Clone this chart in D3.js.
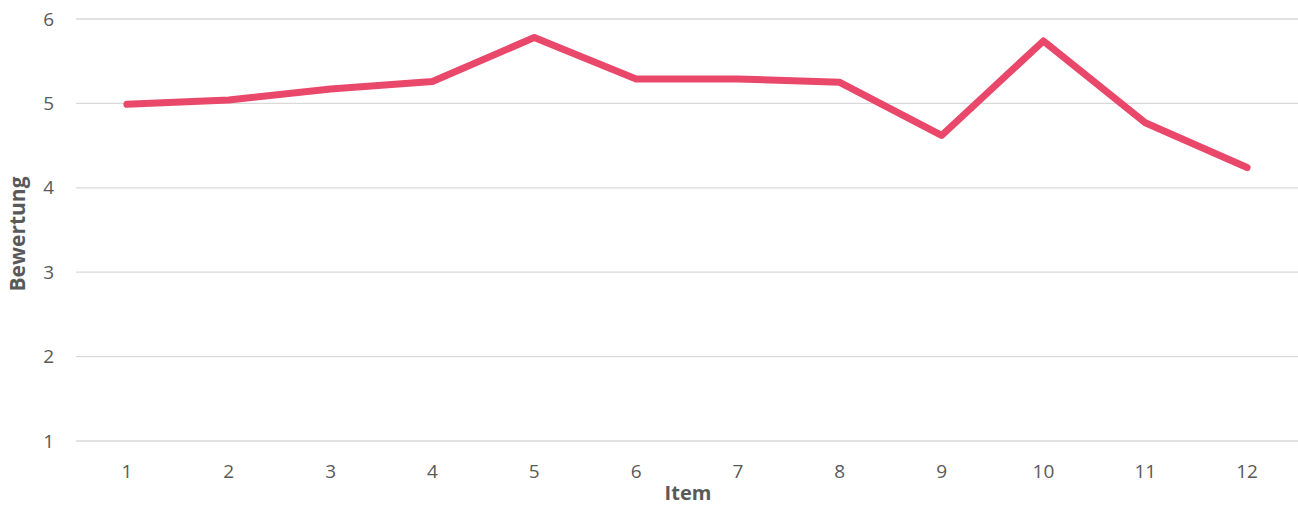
<!DOCTYPE html>
<html>
<head>
<meta charset="utf-8">
<script src="https://cdn.jsdelivr.net/npm/d3@7"></script>
<style>
  body { margin: 0; background: #fff; }
  svg text { font-family: "Open Sans", sans-serif; fill: #595959; }
  .tick text { font-size: 19px; }
</style>
</head>
<body>
<div id="chart"></div>
<script>
var items = ["1","2","3","4","5","6","7","8","9","10","11","12"];
var ratings = [4.99, 5.04, 5.17, 5.26, 5.78, 5.29, 5.29, 5.25, 4.62, 5.74, 4.77, 4.24];
var yTicks = [1, 2, 3, 4, 5, 6];

var width = 1298, height = 506;
var margin = {top: 19, right: 0, bottom: 65, left: 76};

var svg = d3.select("#chart").append("svg")
  .attr("width", width)
  .attr("height", height);

var x = d3.scaleBand()
  .domain(items)
  .range([margin.left, width - margin.right]);

var y = d3.scaleLinear()
  .domain([1, 6])
  .range([height - margin.bottom, margin.top]);

// gridlines
svg.append("g")
  .selectAll("line")
  .data(yTicks)
  .enter().append("line")
  .attr("x1", margin.left)
  .attr("x2", width - margin.right)
  .attr("y1", function(d) { return y(d); })
  .attr("y2", function(d) { return y(d); })
  .attr("stroke", "#d9d9d9")
  .attr("stroke-width", 1.3);

// y axis labels
var yAxis = d3.axisLeft(y).tickValues(yTicks).tickFormat(d3.format("d")).tickSize(0).tickPadding(22);
svg.append("g")
  .attr("transform", "translate(" + margin.left + ",0)")
  .call(yAxis)
  .call(function(g) { g.select(".domain").remove(); });

// x axis labels
var xAxis = d3.axisBottom(x).tickSize(0).tickPadding(24);
svg.append("g")
  .attr("transform", "translate(0," + y(1) + ")")
  .call(xAxis)
  .call(function(g) { g.select(".domain").remove(); });

// line
var line = d3.line()
  .x(function(d, i) { return x(items[i]) + x.bandwidth() / 2; })
  .y(function(d) { return y(d); });

svg.append("path")
  .datum(ratings)
  .attr("d", line)
  .attr("fill", "none")
  .attr("stroke", "#e9486a")
  .attr("stroke-width", 7)
  .attr("stroke-linecap", "round")
  .attr("stroke-linejoin", "round");

// axis titles
svg.append("text")
  .attr("x", 688)
  .attr("y", 500)
  .attr("text-anchor", "middle")
  .style("font-size", "20px")
  .style("font-weight", "bold")
  .text("Item");

svg.append("text")
  .attr("transform", "translate(25,234) rotate(-90)")
  .attr("text-anchor", "middle")
  .style("font-size", "21px")
  .style("font-weight", "bold")
  .text("Bewertung");
</script>
</body>
</html>
